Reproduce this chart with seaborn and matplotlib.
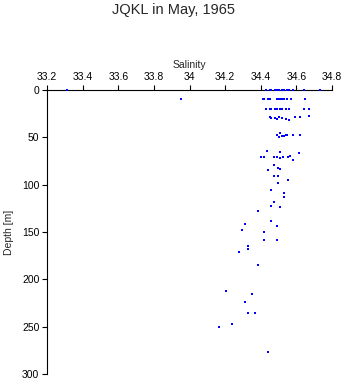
import matplotlib
matplotlib.use("Agg")
import matplotlib.pyplot as plt
import seaborn as sns
import pandas as pd

depth = [0]*14 + [10]*13 + [20]*11 + [28, 28, 30, 30, 30, 31, 31, 32, 29, 29, 27] + \
        [48, 45, 49, 48, 48, 48, 48, 50, 49] + \
        [64, 65, 67, 71, 71, 71, 71, 72, 71, 71, 70, 74, 79, 82, 83, 85, 91, 91, 95, 98,
         106, 109, 113, 118, 123, 124, 127.5, 138, 142, 144, 148, 150, 158, 158, 165, 168,
         171, 185, 212, 216, 224, 236, 236, 247, 250, 277]
salinity = [33.31, 34.43, 34.45, 34.46, 34.48, 34.49, 34.50, 34.52, 34.53, 34.55, 34.56, 34.58, 34.64, 34.73] + \
           [33.95, 34.41, 34.42, 34.44, 34.45, 34.49, 34.50, 34.51, 34.52, 34.53, 34.55, 34.57, 34.65] + \
           [34.43, 34.45, 34.46, 34.48, 34.49, 34.51, 34.52, 34.54, 34.56, 34.64, 34.67] + \
           [34.45, 34.50, 34.46, 34.48, 34.52, 34.49, 34.54, 34.56, 34.59, 34.62, 34.67] + \
           [34.49, 34.51, 34.52, 34.54, 34.55, 34.58, 34.62, 34.50, 34.53] + \
           [34.437, 34.507, 34.614, 34.40, 34.417, 34.473, 34.490, 34.507, 34.524, 34.552, 34.563,
            34.580, 34.473, 34.495, 34.507, 34.439, 34.473, 34.495, 34.552, 34.495,
            34.456, 34.530, 34.530, 34.473, 34.456, 34.507, 34.383, 34.456, 34.310, 34.490,
            34.293, 34.417, 34.417, 34.490, 34.327, 34.327,
            34.276, 34.383, 34.203, 34.349, 34.310, 34.327, 34.366, 34.237, 34.163, 34.439]

xticks = [33.2, 33.4, 33.6, 33.8, 34.0, 34.2, 34.4, 34.6, 34.8]
xticklabels = ["33.2", "33.4", "33.6", "33.8", "34", "34.2", "34.4", "34.6", "34.8"]
yticks = [0, 50, 100, 150, 200, 250, 300]

df = pd.DataFrame({"Salinity": salinity, "Depth": depth})

sns.set_style("ticks")
plt.rcParams["font.family"] = ["Liberation Sans", "DejaVu Sans"]

fig = plt.figure(figsize=(3.46, 3.84), dpi=100)
ax = fig.add_axes([47/346, 1-374/384, (332-47)/346, (374-90)/384])

sns.scatterplot(data=df, x="Salinity", y="Depth", ax=ax, color="#0000ff",
                marker="s", s=4, linewidth=0, clip_on=False, zorder=5)

ax.set_xlim(33.2, 34.8)
ax.set_ylim(300, 0)
ax.xaxis.tick_top()
ax.xaxis.set_label_position("top")
ax.set_xticks(xticks)
ax.set_xticklabels(xticklabels)
ax.set_yticks(yticks)
for s in ["right", "bottom"]:
    ax.spines[s].set_visible(False)
for s in ["left", "top"]:
    ax.spines[s].set_linewidth(0.8)
    ax.spines[s].set_color("black")
ax.tick_params(axis="both", length=3.5, width=0.8, labelsize=7.5, pad=2, colors="black")
ax.set_xlabel("Salinity", fontsize=7.5, labelpad=3)
ax.set_ylabel("Depth [m]", fontsize=7.5, labelpad=6)

fig.suptitle("JQKL in May, 1965", y=1-10/384, va="center", fontsize=10.5)

fig.savefig("out.png", dpi=100)
